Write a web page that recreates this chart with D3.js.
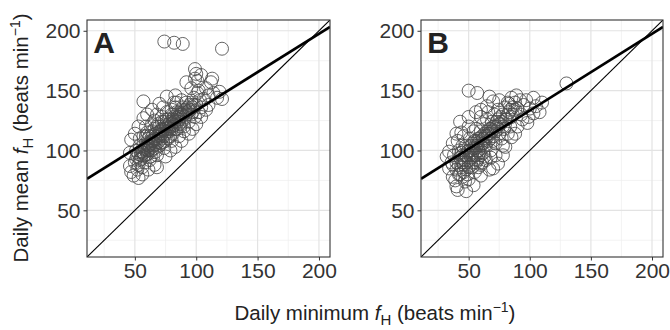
<!DOCTYPE html>
<html>
<head>
<meta charset="utf-8">
<script src="https://cdn.jsdelivr.net/npm/d3@7"></script>
<style>
  body { margin: 0; background: #fff; }
  svg { display: block; font-family: "Liberation Sans", Arial, sans-serif; }
</style>
</head>
<body>
<div id="chart"></div>
<script>
// --- DATA (daily minimum fH, daily mean fH) ---
const panelA = [
  [74,191],[82,190],[89,189],[121,185],[57,141],
  [99,168],[104,163],[100,164],[92,157],[99,160],[101,158],[113,160],[112,157],[108,152],[114,148],
  [119,149],[121,143],[117,144],[110,146],[106,143],[102,150],[96,152],
  [83,146],[76,145],[70,139],[64,134],[60,130],[57,127],[53,120],[50,114],[47,109],[46,98],[46,87],
  [47,82],[49,79],[53,77],[56,80],[61,84],[66,88],[68,86],
  [75,95],[79,100],[83,103],[88,108],[94,114],[97,118],[100,122],[104,128],[108,134],[110,138],
  [50,90],[52,95],[51,100],[54,104],[53,88],[55,93],[52,84],[55,99],[54,110],[56,86],
  [57,95],[58,101],[59,106],[58,90],[60,97],[61,110],[60,115],[62,104],[57,112],[59,120],[62,92],[61,100],
  [63,108],[64,100],[65,113],[66,118],[64,122],[67,105],[68,96],[69,110],[70,116],[66,125],[63,95],[69,122],[70,104],[68,130],
  [71,112],[72,118],[73,107],[74,124],[75,114],[76,120],[72,128],[77,110],[78,126],[74,102],[76,132],[73,136],[78,116],
  [79,120],[80,130],[81,114],[82,124],[83,136],[84,118],[85,128],[80,108],[86,122],[82,140],[84,132],[86,112],
  [87,130],[88,124],[89,136],[90,120],[91,128],[92,140],[93,132],[94,124],[95,138],[88,142],[90,116],
  [96,130],[97,136],[98,144],[99,128],[100,138],[102,132],[103,142],[101,148],[104,136],
  [62,112],[65,108],[67,114],[70,120],[72,110],[75,118],[78,122],[80,118],[82,128],[85,124],[88,130],
  [60,105],[57,104],[55,96],[66,102],
  [51,93],[53,97],[54,92],[56,99],[57,98],[58,96],[59,103],[60,100],[61,104],[62,101],[63,106],[64,108],
  [65,104],[66,110],[67,109],[68,112],[69,107],[70,113],[71,116],[72,114],[73,117],[74,112],[75,121],[76,116],
  [77,119],[78,118],[79,124],[80,122],[81,126],[82,121],[83,125],[84,127],[85,131],[86,126],[87,128],[88,134],
  [89,129],[90,131],[91,134],[92,130],[93,136],[94,133],[95,134],[96,140],[97,132],[98,138],
  [59,112],[63,100],[67,99],[71,106],[75,108],[79,112],[83,118],[87,120],[64,116],[68,120],[72,124],[76,126],
  [80,134],[84,140]
];

const panelB = [
  [50,150],[57,148],[67,145],[130,156],[70,85],
  [85,144],[89,146],[88,140],[92,142],[97,142],[103,144],[110,140],[100,135],[95,138],[86,136],[83,139],
  [90,135],[105,137],[108,132],[103,131],[98,123],[94,126],[88,114],[90,120],[85,111],[80,103],[93,130],[99,128],
  [75,142],[70,141],[65,137],[60,134],[56,132],[50,128],[43,124],[40,114],[37,106],[34,99],[32,95],[34,85],
  [37,78],[40,70],[41,67],[48,66],[54,71],[60,79],[67,84],[74,89],[78,96],
  [36,90],[38,96],[40,84],[42,100],[44,92],[41,108],[39,75],[43,80],[45,104],[37,88],[44,115],
  [46,88],[47,96],[48,104],[49,80],[50,92],[51,110],[52,100],[53,86],[54,116],[55,96],[47,74],[50,120],[53,106],[46,112],
  [56,102],[57,92],[58,110],[59,98],[60,116],[61,106],[62,122],[63,95],[64,112],[65,126],[58,86],[61,90],[56,118],[63,104],[60,128],
  [66,108],[67,118],[68,100],[69,124],[70,112],[71,130],[72,106],[73,120],[74,134],[75,114],[68,94],[72,96],[66,132],[74,126],
  [76,122],[77,110],[78,130],[79,118],[80,136],[81,126],[82,114],[83,132],[84,120],[85,128],[78,104],[82,140],
  [52,94],[55,104],[58,100],[60,96],[62,110],[64,104],[66,114],[68,110],[70,120],[57,108],[45,96],[48,90],
  [40,90],[42,88],[43,94],[44,98],[45,90],[46,100],[47,92],[48,96],[49,99],[50,100],[51,96],[52,104],
  [53,98],[54,102],[55,108],[56,96],[57,104],[58,106],[59,110],[60,104],[61,112],[62,106],[63,114],[64,110],
  [65,116],[66,112],[67,114],[68,118],[69,116],[70,108],[71,120],[72,116],[73,124],[74,118],[75,122],[76,128],
  [77,124],[78,120],[80,126],[82,130],[84,134],[86,130],[88,134],[46,82],[50,86],[54,90],[58,94],[62,98],
  [44,86],[48,84],[52,88],[56,90],[42,80],[45,78],[50,76],[55,82],[60,88],[64,92]
];

const panelLabels = ["A", "B"];
const tickValues = [50, 100, 150, 200];
const minorValues = [25, 75, 125, 175];
const DOMAIN = [11, 209];
// fitted line (intercept, slope); thin line is y = x
const FIT = { intercept: 69.3, slope: 0.641 };

// --- LAYOUT ---
const W = 670, H = 330;
const PANELS = [
  { data: panelA, label: panelLabels[0], left: 87, right: 330 },
  { data: panelB, label: panelLabels[1], left: 421, right: 663 }
];
const TOP = 20, BOTTOM = 257;
const TICK_FONT = 21;
const TITLE_FONT = 20.5;

const svg = d3.select("#chart").append("svg")
  .attr("width", W).attr("height", H);

PANELS.forEach(p => {
  const x = d3.scaleLinear().domain(DOMAIN).range([p.left, p.right]);
  const y = d3.scaleLinear().domain(DOMAIN).range([BOTTOM, TOP]);
  const g = svg.append("g");

  // grid
  g.selectAll("line.minx").data(minorValues).join("line")
    .attr("x1", d => x(d)).attr("x2", d => x(d)).attr("y1", TOP).attr("y2", BOTTOM)
    .attr("stroke", "#eeeeee").attr("stroke-width", 0.7);
  g.selectAll("line.miny").data(minorValues).join("line")
    .attr("y1", d => y(d)).attr("y2", d => y(d)).attr("x1", p.left).attr("x2", p.right)
    .attr("stroke", "#eeeeee").attr("stroke-width", 0.7);
  g.selectAll("line.majx").data(tickValues).join("line")
    .attr("x1", d => x(d)).attr("x2", d => x(d)).attr("y1", TOP).attr("y2", BOTTOM)
    .attr("stroke", "#e3e3e3").attr("stroke-width", 1.2);
  g.selectAll("line.majy").data(tickValues).join("line")
    .attr("y1", d => y(d)).attr("y2", d => y(d)).attr("x1", p.left).attr("x2", p.right)
    .attr("stroke", "#e3e3e3").attr("stroke-width", 1.2);

  // points
  g.append("g").selectAll("circle").data(p.data).join("circle")
    .attr("cx", d => x(d[0])).attr("cy", d => y(d[1])).attr("r", 6.5)
    .attr("fill", "none").attr("stroke", "#4a4a4a").attr("stroke-width", 0.85);

  // clip for lines
  const clipId = "clip" + p.label;
  svg.append("clipPath").attr("id", clipId).append("rect")
    .attr("x", p.left).attr("y", TOP).attr("width", p.right - p.left).attr("height", BOTTOM - TOP);

  const lg = g.append("g").attr("clip-path", `url(#${clipId})`);
  lg.append("line")
    .attr("x1", x(DOMAIN[0])).attr("y1", y(DOMAIN[0]))
    .attr("x2", x(DOMAIN[1])).attr("y2", y(DOMAIN[1]))
    .attr("stroke", "#000").attr("stroke-width", 1.1);
  lg.append("line")
    .attr("x1", x(DOMAIN[0])).attr("y1", y(FIT.intercept + FIT.slope * DOMAIN[0]))
    .attr("x2", x(DOMAIN[1])).attr("y2", y(FIT.intercept + FIT.slope * DOMAIN[1]))
    .attr("stroke", "#000").attr("stroke-width", 2.6);

  // panel border
  g.append("rect")
    .attr("x", p.left).attr("y", TOP).attr("width", p.right - p.left).attr("height", BOTTOM - TOP)
    .attr("fill", "none").attr("stroke", "#333").attr("stroke-width", 1.1);

  // axes
  const xAxis = d3.axisBottom(x).tickValues(tickValues).tickSize(3.5).tickPadding(3);
  const yAxis = d3.axisLeft(y).tickValues(tickValues).tickSize(3.5).tickPadding(3);
  const styleAxis = a => {
    a.select(".domain").remove();
    a.selectAll("line").attr("stroke", "#333");
    a.selectAll("text").attr("fill", "#333").attr("font-size", TICK_FONT)
      .attr("font-family", '"Liberation Sans", Arial, sans-serif');
  };
  svg.append("g").attr("transform", `translate(0,${BOTTOM})`).call(xAxis).call(styleAxis);
  svg.append("g").attr("transform", `translate(${p.left},0)`).call(yAxis).call(styleAxis);

  // panel letter
  g.append("text")
    .attr("x", x(25)).attr("y", y(190))
    .attr("text-anchor", "middle").attr("dominant-baseline", "central")
    .attr("font-size", 30).attr("font-weight", "bold").attr("fill", "#222")
    .text(p.label);
});

// axis titles
const addTitle = (sel, prefix) => {
  sel.append("tspan").text(prefix);
  sel.append("tspan").attr("font-style", "italic").text("f");
  sel.append("tspan").attr("font-size", 15).attr("dy", 5).text("H");
  sel.append("tspan").attr("dy", -5).text(" (beats min");
  sel.append("tspan").attr("font-size", 14).attr("dy", -8).text("\u22121");
  sel.append("tspan").attr("dy", 8).text(")");
};

const xt = svg.append("text")
  .attr("x", 375).attr("y", 320)
  .attr("text-anchor", "middle").attr("font-size", TITLE_FONT).attr("fill", "#222");
addTitle(xt, "Daily minimum ");

const yt = svg.append("text")
  .attr("transform", "translate(28,138) rotate(-90)")
  .attr("text-anchor", "middle").attr("font-size", TITLE_FONT).attr("fill", "#222");
addTitle(yt, "Daily mean ");
</script>
</body>
</html>
